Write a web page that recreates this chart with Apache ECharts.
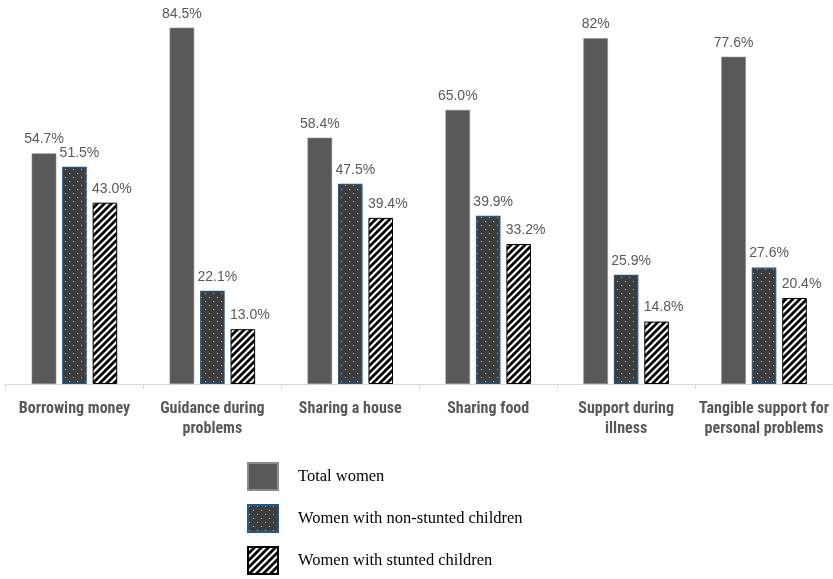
<!DOCTYPE html>
<html>
<head>
<meta charset="utf-8">
<script src="https://cdn.jsdelivr.net/npm/echarts@6/dist/echarts.min.js"></script>
<style>html,body{margin:0;padding:0;background:#fff}#c{width:833px;height:579px}</style>
</head>
<body>
<div id="c"></div>
<script>
var categories = ['Borrowing money', 'Guidance during problems', 'Sharing a house', 'Sharing food', 'Support during illness', 'Tangible support for personal problems'];
var tickLabels = ['Borrowing money', 'Guidance during\nproblems', 'Sharing a house', 'Sharing food', 'Support during\nillness', 'Tangible support for\npersonal problems'];
var seriesNames = ['Total women', 'Women with non-stunted children', 'Women with stunted children'];
var totalWomen = [54.7, 84.5, 58.4, 65.0, 82, 77.6];
var nonStunted = [51.5, 22.1, 47.5, 39.9, 25.9, 27.6];
var stunted = [43.0, 13.0, 39.4, 33.2, 14.8, 20.4];
var totalLabels = ['54.7%', '84.5%', '58.4%', '65.0%', '82%', '77.6%'];
var nonStuntedLabels = ['51.5%', '22.1%', '47.5%', '39.9%', '25.9%', '27.6%'];
var stuntedLabels = ['43.0%', '13.0%', '39.4%', '33.2%', '14.8%', '20.4%'];

function dotPattern() {
  var c = document.createElement('canvas');
  c.width = 8; c.height = 8;
  var g = c.getContext('2d');
  g.fillStyle = '#3d3d3d'; g.fillRect(0, 0, 8, 8);
  g.fillStyle = '#bdbdbd';
  g.fillRect(1, 1, 1, 1);
  g.fillRect(5, 5, 1, 1);
  return c;
}
function stripePattern() {
  var s = 7;
  var c = document.createElement('canvas');
  c.width = s; c.height = s;
  var g = c.getContext('2d');
  g.fillStyle = '#ffffff'; g.fillRect(0, 0, s, s);
  g.strokeStyle = '#000000'; g.lineWidth = 2.8;
  g.beginPath();
  g.moveTo(-1, s + 1); g.lineTo(s + 1, -1);
  g.moveTo(-1, 1); g.lineTo(1, -1);
  g.moveTo(s - 1, s + 1); g.lineTo(s + 1, s - 1);
  g.stroke();
  return c;
}

function mkLabel(arr, offX) {
  return {
    show: true, position: 'top', distance: 7, offset: [offX, 0],
    formatter: function (p) { return arr[p.dataIndex]; },
    fontFamily: 'Liberation Sans, Arial, sans-serif', fontSize: 14, color: '#595959'
  };
}

var chart = echarts.init(document.getElementById('c'));
chart.setOption({
  animation: false,
  backgroundColor: '#ffffff',
  grid: {left: 5.5, width: 827.5, top: 4.5, height: 379.5, containLabel: false},
  xAxis: {
    type: 'category',
    data: categories,
    axisLine: {lineStyle: {color: '#d9d9d9', width: 1}},
    axisTick: {show: true, length: 5, lineStyle: {color: '#d9d9d9'}},
    axisLabel: {
      margin: 15, lineHeight: 20, interval: 0,
      formatter: function (v, i) { return tickLabels[i]; },
      fontFamily: 'Liberation Sans Narrow, Arial Narrow, Roboto Condensed, sans-serif',
      fontWeight: 'bold', fontSize: 16, color: '#595959'
    }
  },
  yAxis: {type: 'value', min: 0, max: 90, show: false, splitLine: {show: false}},
  legend: {
    orient: 'vertical', left: 247, top: 462, padding: 0,
    itemWidth: 30, itemHeight: 27, itemGap: 13,
    icon: 'rect',
    data: seriesNames,
    textStyle: {fontFamily: 'Liberation Serif, Times New Roman, serif', fontSize: 16.5, color: '#000', padding: [6, 0, 0, 15]}
  },
  series: [
    {
      name: seriesNames[0], type: 'bar', data: totalWomen,
      barCategoryGap: '38%', barGap: '24%',
      itemStyle: {color: '#595959', borderColor: '#8a8a8a', borderWidth: 0.6},
      label: mkLabel(totalLabels, 0)
    },
    {
      name: seriesNames[1], type: 'bar', data: nonStunted,
      itemStyle: {color: {image: dotPattern(), repeat: 'repeat'}, borderColor: '#1f5b86', borderWidth: 1.2},
      label: mkLabel(nonStuntedLabels, 5)
    },
    {
      name: seriesNames[2], type: 'bar', data: stunted,
      itemStyle: {color: {image: stripePattern(), repeat: 'repeat'}, borderColor: '#000000', borderWidth: 1},
      label: mkLabel(stuntedLabels, 7)
    }
  ]
});
</script>
</body>
</html>
